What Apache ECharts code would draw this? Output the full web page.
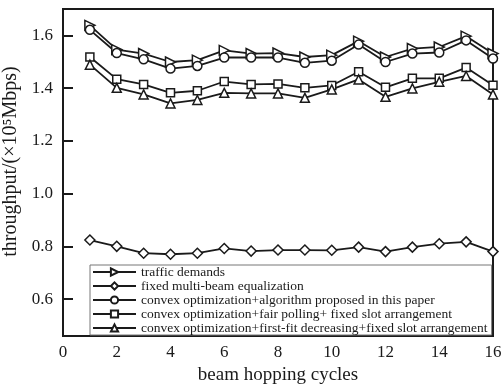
<!DOCTYPE html>
<html>
<head>
<meta charset="utf-8">
<script src="https://cdn.jsdelivr.net/npm/echarts@6/dist/echarts.min.js"></script>
<style>html,body{margin:0;padding:0;background:#fff}#c{width:504px;height:384px}</style>
</head>
<body>
<div id="c"></div>
<script>
const cycles = [1,2,3,4,5,6,7,8,9,10,11,12,13,14,15,16];
const seriesNames = [
  'traffic demands',
  'fixed multi-beam equalization',
  'convex optimization+algorithm proposed in this paper',
  'convex optimization+fair polling+ fixed slot arrangement',
  'convex optimization+first-fit decreasing+fixed slot arrangement'
];
const trafficDemands = [1.638,1.546,1.531,1.499,1.506,1.543,1.531,1.533,1.518,1.525,1.578,1.518,1.550,1.556,1.597,1.531];
const fixedEqualization = [0.824,0.800,0.774,0.770,0.774,0.792,0.782,0.786,0.786,0.785,0.797,0.780,0.797,0.810,0.817,0.780];
const proposedAlgorithm = [1.621,1.533,1.509,1.474,1.484,1.516,1.516,1.516,1.496,1.504,1.565,1.499,1.531,1.535,1.581,1.512];
const fairPolling = [1.518,1.434,1.414,1.382,1.390,1.425,1.414,1.416,1.401,1.410,1.462,1.403,1.437,1.437,1.478,1.411];
const firstFit = [1.489,1.401,1.376,1.342,1.355,1.382,1.380,1.380,1.363,1.395,1.433,1.367,1.399,1.424,1.446,1.376];
const xTicks = [0,2,4,6,8,10,12,14,16];
const yTicks = [0.6,0.8,1.0,1.2,1.4,1.6];

const font = '"Liberation Serif","Times New Roman",serif';
const dark = '#1a1a1a';
const symbols = [
  {symbol:'triangle', rotate:-90, size:10},
  {symbol:'diamond', rotate:0, size:10},
  {symbol:'circle', rotate:0, size:9},
  {symbol:'rect', rotate:0, size:8},
  {symbol:'triangle', rotate:0, size:9}
];
const allData = [trafficDemands, fixedEqualization, proposedAlgorithm, fairPolling, firstFit];

const chart = echarts.init(document.getElementById('c'), null, {renderer:'canvas'});
chart.setOption({
  animation:false,
  backgroundColor:'#fff',
  textStyle:{fontFamily:font, color:dark},
  grid:{left:63, right:11, top:9, bottom:48, outerBoundsMode:'none', containLabel:false, show:true, borderColor:dark, borderWidth:2, backgroundColor:'transparent'},
  legend:{
    orient:'vertical', left:90, top:265,
    itemWidth:43, itemHeight:9, itemGap:0,
    padding:[0,4,0,2],
    backgroundColor:'#fff', borderColor:'#777', borderWidth:1,
    textStyle:{fontFamily:font, fontSize:13.5, color:dark, lineHeight:14},
    data: seriesNames
  },
  xAxis:{
    type:'value', min:0, max:16, interval:2,
    name:'beam hopping cycles', nameLocation:'middle', nameGap:27,
    nameTextStyle:{fontFamily:font, fontSize:19, color:dark},
    axisLine:{lineStyle:{color:dark, width:2}},
    axisTick:{show:false},
    splitLine:{show:false},
    axisLabel:{fontFamily:font, fontSize:17, color:dark, margin:8, customValues:xTicks}
  },
  yAxis:{
    type:'value', min:0.46, max:1.7,
    name:'throughput/(×10⁵Mbps)', nameLocation:'middle', nameGap:24, nameRotate:90,
    nameTextStyle:{fontFamily:font, fontSize:20, color:dark, padding:[0,0,0,22]},
    axisLine:{lineStyle:{color:dark, width:2}},
    axisTick:{show:true, inside:true, length:10, lineStyle:{color:dark, width:2}, customValues:yTicks},
    splitLine:{show:false},
    axisLabel:{fontFamily:font, fontSize:17, color:dark, margin:10, customValues:yTicks, formatter:v=>v.toFixed(1)}
  },
  series: allData.map((d,i)=>({
    name: seriesNames[i],
    type:'line',
    data: cycles.map((c,j)=>[c, d[j]]),
    symbol: symbols[i].symbol,
    symbolRotate: symbols[i].rotate,
    symbolSize: symbols[i].size,
    showAllSymbol:true,
    lineStyle:{color:dark, width:1.8},
    itemStyle:{color:'#fff', borderColor:dark, borderWidth:1.5},
    z: 2
  }))
});
</script>
</body>
</html>
